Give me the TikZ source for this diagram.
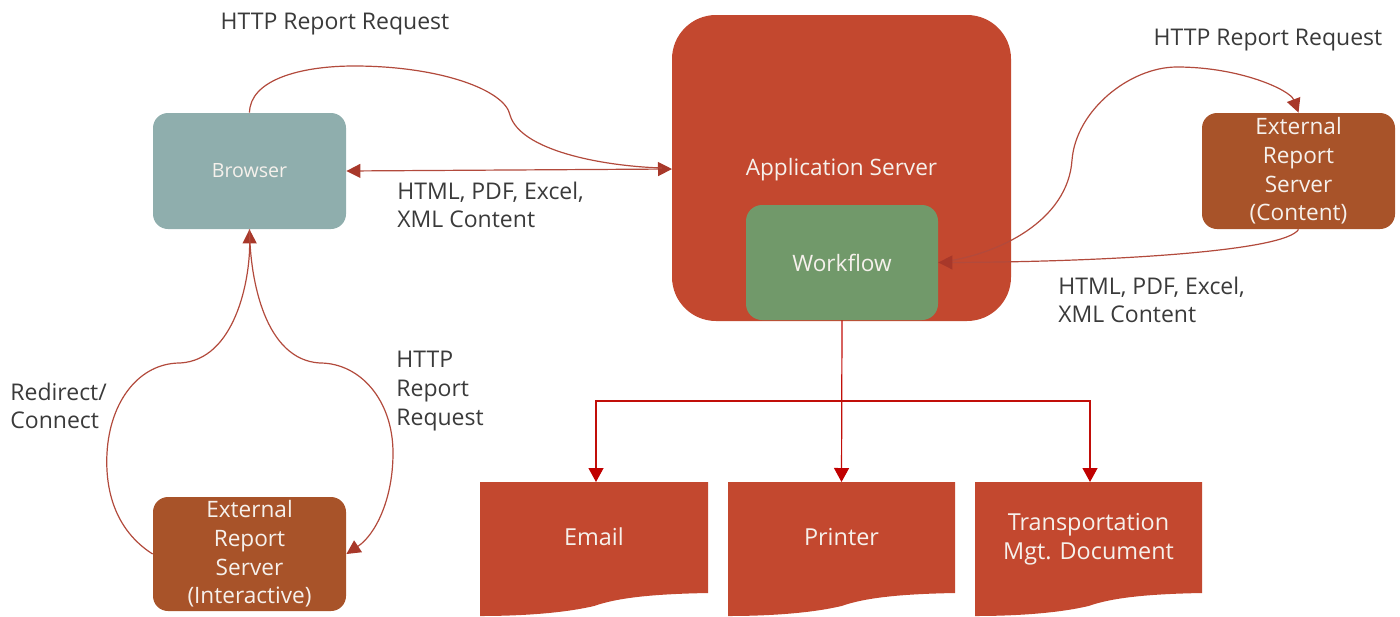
\documentclass[tikz,border=0pt]{standalone}
\usepackage{fontspec}
\setmainfont{Open Sans}
\usetikzlibrary{arrows.meta,calc}
\definecolor{appred}{HTML}{C3482F}
\definecolor{browserc}{HTML}{8FAEAD}
\definecolor{ersc}{HTML}{A85329}
\definecolor{wfc}{HTML}{71996A}
\definecolor{linec}{HTML}{B24A3C}
\definecolor{tipc}{HTML}{A8382A}
\definecolor{brightred}{HTML}{C00000}
\definecolor{txtc}{HTML}{3A3A3A}
\definecolor{boxtxt}{HTML}{F6F1EC}
\begin{document}
\begin{tikzpicture}[x=0.5pt,y=-0.5pt,
  lbl/.style={text=txtc,font=\fontsize{11.5}{14.3}\selectfont,inner sep=0pt},
  boxtext/.style={text=boxtxt,font=\fontsize{11.3}{14.3}\selectfont,align=center,inner sep=0pt},
  smallbox/.style={draw=none,rounded corners=7.5pt,minimum width=96.5pt,minimum height=58pt,inner sep=0pt,text=boxtxt,align=center,font=\fontsize{11.3}{14.3}\selectfont},
  curve/.style={draw=linec,line width=0.6pt},
  ctip/.style={-{Triangle[length=7pt,width=7pt,fill=tipc,color=tipc]}},
  btip/.style={draw=brightred!80!appred,line width=0.6pt,-{Triangle[length=7pt,width=7.5pt,fill=brightred,color=brightred]}},
  docshape/.style={fill=appred,draw=none}
]
\useasboundingbox (0,0) rectangle (1400,616);

% boxes
\node[smallbox,fill=browserc,font=\fontsize{9.8}{12}\selectfont] (browser) at (249.5,171) {Browser};
\node[draw=none,fill=appred,rounded corners=22pt,minimum width=169.5pt,minimum height=153pt,inner sep=0pt] (app) at (841.5,168) {};
\node[boxtext] (apptitle) at (841.5,170) {Application Server};
\node[draw=none,fill=wfc,rounded corners=8pt,minimum width=96pt,minimum height=57.5pt,inner sep=0pt,text=boxtxt,font=\fontsize{11.3}{14.3}\selectfont] (wf) at (842,262.5) {Workflow};
\node[smallbox,fill=ersc] (ersc) at (1298.5,171) {External\\Report\\Server\\(Content)};
\node[smallbox,fill=ersc,minimum height=57pt] (ersi) at (249.5,554) {External\\Report\\Server\\(Interactive)};

% documents
\foreach \l/\r in {480/708,728/955,975/1202}{
  \path[docshape] (\l,482) -- (\r,482) -- (\r,593)
    .. controls ($(\l,0)!0.75!(\r,0)+(0,594)$) and ($(\l,0)!0.6!(\r,0)+(0,598)$) .. ($(\l,0)!0.5!(\r,0)+(0,606)$)
    .. controls ($(\l,0)!0.35!(\r,0)+(0,614)$) and ($(\l,0)!0.15!(\r,0)+(0,616)$) .. (\l,616) -- cycle;
}
\node[boxtext,font=\fontsize{11.7}{14.5}\selectfont] (email) at (594,537) {Email};
\node[boxtext,font=\fontsize{11.7}{14.5}\selectfont] (printer) at (841.5,537) {Printer};
\node[boxtext,font=\fontsize{11.7}{14.5}\selectfont] (tmd) at (1088.5,539) {Transportation\\Mgt. Document};
\coordinate (emailtop) at (596,482);
\coordinate (printtop) at (841.5,482);
\coordinate (tmdtop) at (1090,482);
\coordinate (hub) at (841.5,401);

% browser <-> app
\coordinate (appw) at (672,169);
\draw[curve,{Triangle[length=7pt,width=7pt,fill=tipc,color=tipc]}-{Triangle[length=7pt,width=7pt,fill=tipc,color=tipc]}] (browser.east) -- (appw);
\draw[curve] (browser.north) .. controls (250,80) and (300,66) .. (354,66)
  .. controls (440,66) and (505,90) .. (510,115)
  .. controls (520,150) and (600,166) .. (662,168);

% workflow <-> external content
\coordinate (wfe) at (wf.east);
\draw[curve,ctip] (wf.east) .. controls (1000,255) and (1068,220) .. (1072,160)
  .. controls (1076,110) and (1130,67) .. (1177,67)
  .. controls (1240,67) and (1290,90) .. (ersc.north);
\draw[curve,ctip] (ersc.south) .. controls (1285,252) and (1100,262) .. (wf.east);

% browser <-> external interactive
\draw[curve,ctip] (ersi.west) .. controls (115,530) and (105,490) .. (107,453)
  .. controls (110,400) and (140,363) .. (180,363)
  .. controls (235,360) and (250,280) .. (browser.south);
\draw[curve,ctip] (browser.south) .. controls (250,280) and (265,360) .. (320,363)
  .. controls (360,363) and (393,400) .. (393,453)
  .. controls (393,500) and (375,535) .. (ersi.east);

% workflow to outputs
\draw[btip] (wf.south) -- (printtop);
\draw[btip] (hub) -| (emailtop);
\draw[btip] (hub) -| (tmdtop);

% labels
\node[lbl] (l1) at (335,24) {HTTP Report Request};
\node[lbl,align=left,anchor=west] (l2) at (397,205) {HTML, PDF, Excel,\\XML Content};
\node[lbl] (l3) at (1268,40) {HTTP Report Request};
\node[lbl,align=left,anchor=west] (l4) at (1058,300) {HTML, PDF, Excel,\\XML Content};
\node[lbl,align=left,anchor=west] (l5) at (10,406) {Redirect/\\Connect};
\node[lbl,align=left,anchor=west] (l6) at (396,391) {HTTP\\Report\\Request};
\end{tikzpicture}
\end{document}
